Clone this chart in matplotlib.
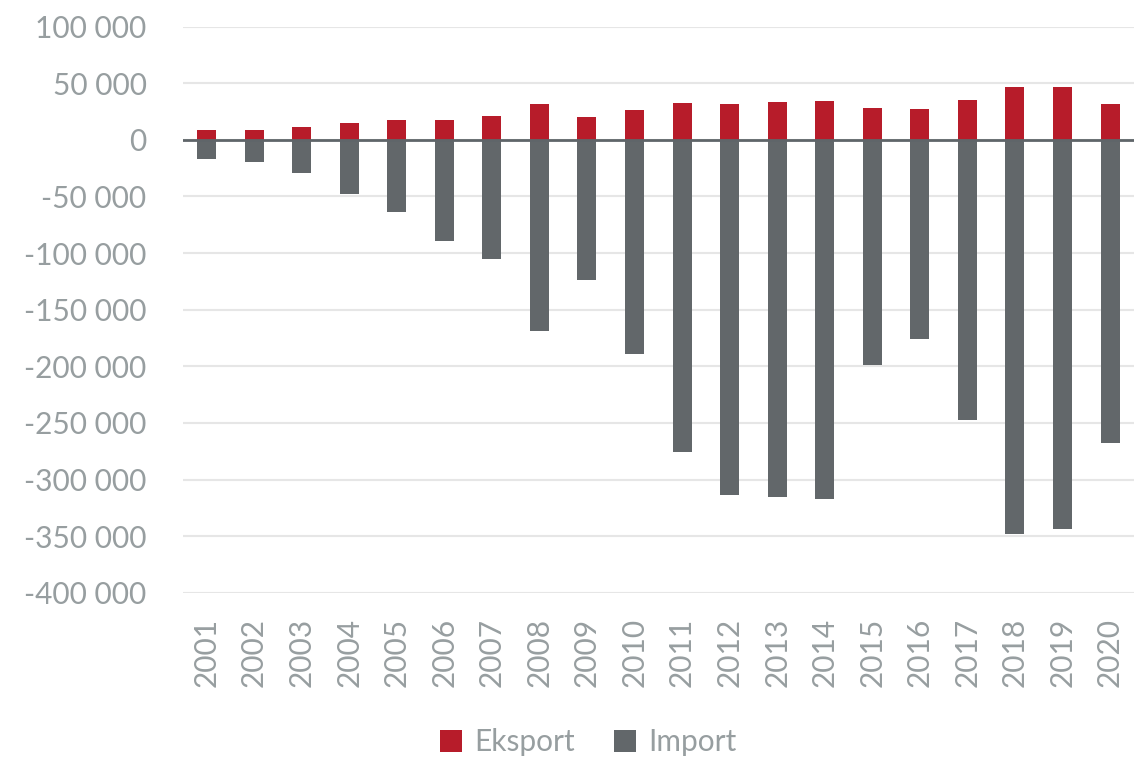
import numpy as np
import matplotlib.pyplot as plt
from matplotlib.ticker import FuncFormatter

years = [str(y) for y in range(2001, 2021)]
eksport = [8200, 8200, 11200, 14700, 17600, 17900, 21200, 31700, 20300, 26500,
           32300, 31200, 33500, 34400, 27900, 27000, 35300, 46700, 47000, 31700]
import_ = [-17400, -19400, -29400, -47900, -64100, -89000, -105200, -169300, -124000, -189000,
           -276000, -313300, -315400, -316900, -199000, -175800, -247800, -348000, -343600, -267800]

RED = "#b71c2a"
GRAY = "#62676a"
TEXT = "#979ea0"

plt.rcParams['font.family'] = ['Lato', 'DejaVu Sans']

fig = plt.figure(figsize=(11.35, 7.58), dpi=100)
ax = fig.add_axes([0.161, 0.218, 0.838, 0.747])

x = np.arange(len(years))
ax.bar(x, eksport, width=0.4, color=RED, label="Eksport", zorder=3)
ax.bar(x, import_, width=0.4, color=GRAY, label="Import", zorder=3)
ax.axhline(0, color="#5f6569", lw=2, zorder=4)

ax.set_ylim(-400000, 100000)
ax.set_yticks(np.arange(-400000, 100001, 50000))
ax.yaxis.set_major_formatter(FuncFormatter(lambda v, p: f"{int(v):,}".replace(",", " ")))
ax.set_xlim(-0.5, len(years) - 0.5)
ax.set_xticks(x)
ax.set_xticklabels(years, rotation=90)

ax.grid(axis="y", color="#e6e6e6", lw=1.5, zorder=0)
for s in ax.spines.values():
    s.set_visible(False)
ax.tick_params(axis="both", length=0, labelsize=21.5, colors=TEXT)
ax.tick_params(axis="x", pad=18)
ax.tick_params(axis="y", pad=26)

fig.legend(loc="lower center", bbox_to_anchor=(0.518, -0.033), ncol=2, frameon=False,
           fontsize=21.5, labelcolor=TEXT, handlelength=0.75, handleheight=0.75,
           columnspacing=1.3, handletextpad=0.4)

fig.savefig("out.png", dpi=100)
